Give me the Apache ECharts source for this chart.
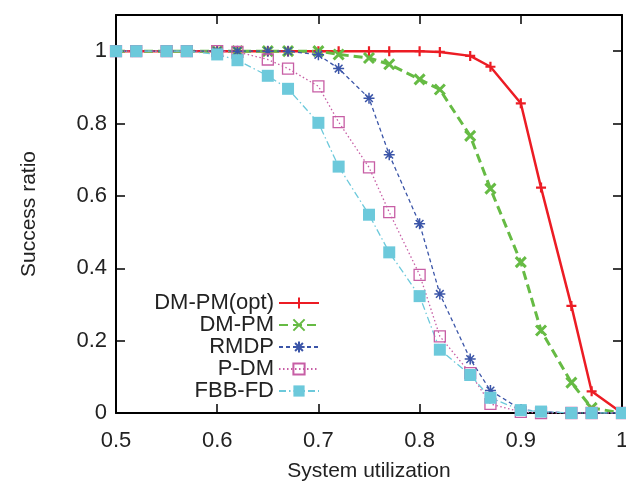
<!DOCTYPE html>
<html>
<head>
<meta charset="utf-8">
<script src="https://cdn.jsdelivr.net/npm/echarts@6/dist/echarts.min.js"></script>
<style>html,body{margin:0;padding:0;background:#fff;}#c{width:626px;height:481px;}</style>
</head>
<body>
<div id="c"></div>
<script>
var xValues = [0.5,0.52,0.55,0.57,0.6,0.62,0.65,0.67,0.7,0.72,0.75,0.77,0.8,0.82,0.85,0.87,0.9,0.92,0.95,0.97,1.0];
var seriesNames = ['DM-PM(opt)','DM-PM','RMDP','P-DM','FBB-FD'];
var dmpmOpt = [1,1,1,1,1,1,1,1,1,1,1,1,1,0.998,0.987,0.957,0.856,0.623,0.296,0.06,0];
var dmpm    = [1,1,1,1,1,1,1,1,1,0.991,0.981,0.964,0.922,0.894,0.766,0.62,0.417,0.228,0.084,0.014,0];
var rmdp    = [1,1,1,1,1,1,1,1,0.99,0.952,0.87,0.714,0.523,0.329,0.149,0.062,0.01,0.004,0,0,0];
var pdm     = [1,1,1,1,1,0.998,0.977,0.952,0.903,0.804,0.679,0.555,0.382,0.212,0.11,0.025,0.003,0,0,0,0];
var fbbfd   = [1,1,1,1,0.991,0.975,0.932,0.896,0.802,0.681,0.548,0.444,0.323,0.175,0.105,0.042,0.008,0.004,0,0,0];
var xTicks = [0.5,0.6,0.7,0.8,0.9,1];
var yTicks = [0,0.2,0.4,0.6,0.8,1];

function pairs(ys){ return xValues.map(function(x,i){ return [x, ys[i]]; }); }

var FONT = '"Liberation Sans", Arial, sans-serif';
var TXT = '#222';
var chart = echarts.init(document.getElementById('c'), null, {renderer:'canvas'});

var baseX = {
  type:'value', min:0.5, max:1, interval:0.1,
  axisLine:{show:true, onZero:false, lineStyle:{color:'#000', width:2}},
  splitLine:{show:false}
};
var baseY = {
  type:'value', min:0, max:1.1, interval:0.2,
  axisLine:{show:true, onZero:false, lineStyle:{color:'#000', width:2}},
  splitLine:{show:false}
};

var option = {
  animation:false,
  backgroundColor:'#fff',
  textStyle:{fontFamily:FONT},
  grid:{left:116, right:4, top:15, bottom:68, containLabel:false, outerBoundsMode:'none'},
  xAxis:[
    Object.assign({}, baseX, {
      position:'bottom',
      name:'System utilization', nameLocation:'middle', nameGap:48,
      nameTextStyle:{fontSize:21, color:TXT, fontFamily:FONT},
      axisTick:{show:true, inside:true, length:9, lineStyle:{color:'#000', width:1.5}},
      axisLabel:{show:true, fontSize:22, color:TXT, fontFamily:FONT, margin:17,
        formatter:function(v){ return xTicks.indexOf(Math.round(v*10)/10) >= 0 ? String(Math.round(v*10)/10) : ''; }}
    }),
    Object.assign({}, baseX, {
      position:'top',
      axisTick:{show:true, inside:true, length:9, lineStyle:{color:'#000', width:1.5}},
      axisLabel:{show:false}
    })
  ],
  yAxis:[
    Object.assign({}, baseY, {
      position:'left',
      name:'Success ratio', nameLocation:'middle', nameGap:76, nameRotate:90,
      nameTextStyle:{fontSize:21, color:TXT, fontFamily:FONT},
      axisTick:{show:true, inside:true, length:9, lineStyle:{color:'#000', width:1.5}},
      axisLabel:{show:true, fontSize:22, color:TXT, fontFamily:FONT, margin:9,
        formatter:function(v){ var r = Math.round(v*10)/10; return (yTicks.indexOf(r) >= 0 && v <= 1.0001) ? String(r) : ''; }}
    }),
    Object.assign({}, baseY, {
      position:'right',
      axisTick:{show:true, inside:true, length:9, lineStyle:{color:'#000', width:1.5}},
      axisLabel:{show:false}
    })
  ],
  legend:{
    orient:'vertical', align:'right',
    right:306, top:292, padding:0,
    itemWidth:40, itemHeight:14, itemGap:0,
    textStyle:{fontSize:22, color:TXT, fontFamily:FONT, lineHeight:18},
    data:seriesNames
  },
  series:[
    {
      name:seriesNames[0], type:'line', data:pairs(dmpmOpt),
      symbol:'path://M0,5L10,5M5,0L5,10', symbolSize:10,
      color:'#ec1c24',
      lineStyle:{color:'#ec1c24', width:2.5, type:'solid'},
      itemStyle:{color:'#ec1c24', borderColor:'#ec1c24', borderWidth:2.2}
    },
    {
      name:seriesNames[1], type:'line', data:pairs(dmpm),
      symbol:'path://M0,0L10,10M10,0L0,10', symbolSize:10,
      color:'#66bb44',
      lineStyle:{color:'#66bb44', width:3, type:[9,5]},
      itemStyle:{color:'#66bb44', borderColor:'#66bb44', borderWidth:3}
    },
    {
      name:seriesNames[2], type:'line', data:pairs(rmdp),
      symbol:'path://M5,0L5,10M0,5L10,5M1.5,1.5L8.5,8.5M8.5,1.5L1.5,8.5', symbolSize:11,
      color:'#3b55a8',
      lineStyle:{color:'#3b55a8', width:1.3, type:[4,3]},
      itemStyle:{color:'#3b55a8', borderColor:'#3b55a8', borderWidth:1.5}
    },
    {
      name:seriesNames[3], type:'line', data:pairs(pdm),
      symbol:'path://M0,0L10,0L10,10L0,10Z', symbolSize:11,
      color:'#c75ea5',
      lineStyle:{color:'#c75ea5', width:1.3, type:[1.5,2.5]},
      itemStyle:{color:'rgba(255,255,255,0)', borderColor:'#c75ea5', borderWidth:1.3}
    },
    {
      name:seriesNames[4], type:'line', data:pairs(fbbfd),
      symbol:'rect', symbolSize:12,
      color:'#6cc9db',
      lineStyle:{color:'#6cc9db', width:1.3, type:[7,3,1.5,3]},
      itemStyle:{color:'#6cc9db', borderWidth:0}
    }
  ]
};
chart.setOption(option);
</script>
</body>
</html>
